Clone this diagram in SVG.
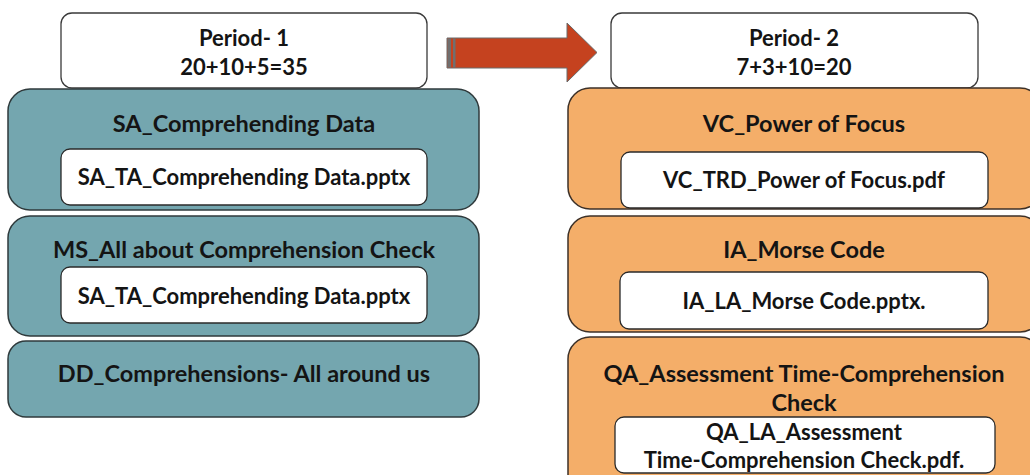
<svg xmlns="http://www.w3.org/2000/svg" width="1030" height="475" viewBox="0 0 1030 475">
<style>
.hdr{fill:#ffffff;stroke:#3a3a3a;stroke-width:1.3}
.teal{fill:#74A6AF;stroke:#2f3a3c;stroke-width:1.5}
.orng{fill:#F4AE69;stroke:#3d3128;stroke-width:1.5}
.inner{fill:#ffffff;stroke:#2a2a2a;stroke-width:1.3}
text{font-family:"Lato","Liberation Sans",sans-serif;font-weight:bold;font-size:23.5px;fill:#141414;text-anchor:middle}
text.p{font-size:22px}
text.i{font-size:22px}
</style>
<rect width="1030" height="475" fill="#ffffff"/>
<g id="connectors">
<path d="M447 38 H567 V23 L597 52.5 L567 82 V68 H447 Z" fill="#C5421F" stroke="#6b6b6b" stroke-width="1"/>
<rect x="447.5" y="38.5" width="3.5" height="29" fill="#6f6f6f"/>
<rect x="453" y="38.5" width="2.5" height="29" fill="#6f6f6f"/>
</g>
<g id="period1">
<rect class="hdr" x="61" y="13" width="366" height="75" rx="11"/>
<text class="p" x="244" y="46">Period- 1</text>
<text class="p" x="244" y="75">20+10+5=35</text>
</g>
<g id="sa">
<rect class="teal" x="8" y="89" width="471" height="121" rx="22"/>
<text x="244" y="132">SA_Comprehending Data</text>
<rect class="inner" x="61" y="149" width="366" height="56" rx="9"/>
<text class="i" x="244" y="185">SA_TA_Comprehending Data.pptx</text>
</g>
<g id="ms">
<rect class="teal" x="8" y="216" width="471" height="120" rx="22"/>
<text x="244" y="258">MS_All about Comprehension Check</text>
<rect class="inner" x="61" y="267" width="366" height="56" rx="9"/>
<text class="i" x="244" y="304">SA_TA_Comprehending Data.pptx</text>
</g>
<g id="dd">
<rect class="teal" x="8" y="341" width="471" height="76" rx="18"/>
<text x="244" y="382">DD_Comprehensions- All around us</text>
</g>
<g id="period2">
<rect class="hdr" x="611" y="13" width="367" height="75" rx="11"/>
<text class="p" x="794" y="46">Period- 2</text>
<text class="p" x="794" y="75">7+3+10=20</text>
</g>
<g id="vc">
<rect class="orng" x="568" y="88" width="474" height="121" rx="22"/>
<text x="804" y="132">VC_Power of Focus</text>
<rect class="inner" x="621" y="152" width="367" height="56" rx="9"/>
<text class="i" x="804" y="188">VC_TRD_Power of Focus.pdf</text>
</g>
<g id="ia">
<rect class="orng" x="568" y="216" width="474" height="116" rx="22"/>
<text x="804" y="258">IA_Morse Code</text>
<rect class="inner" x="620" y="272" width="368" height="57" rx="9"/>
<text class="i" x="804" y="309">IA_LA_Morse Code.pptx.</text>
</g>
<g id="qa">
<rect class="orng" x="568" y="337" width="474" height="160" rx="22"/>
<text x="804" y="382">QA_Assessment Time-Comprehension</text>
<text x="804" y="411">Check</text>
<rect class="inner" x="615" y="417" width="380" height="56" rx="9"/>
<text class="i" x="804" y="440">QA_LA_Assessment</text>
<text class="i" x="804" y="468">Time-Comprehension Check.pdf.</text>
</g>
</svg>
